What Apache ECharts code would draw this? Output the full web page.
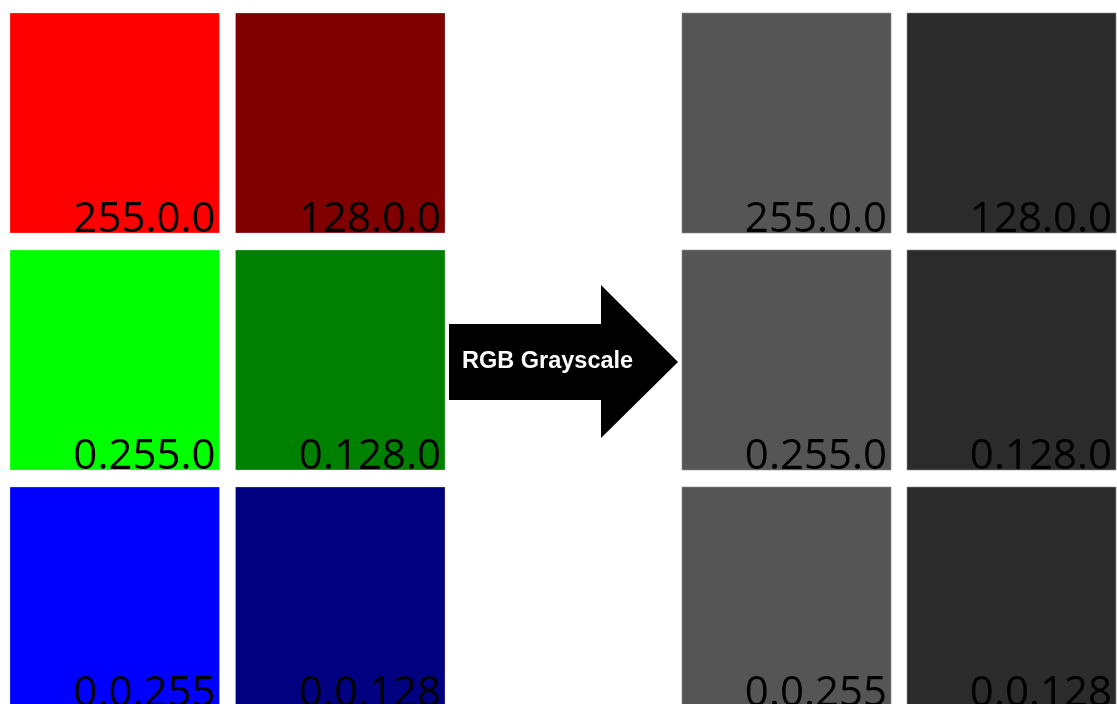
<!DOCTYPE html>
<html><head><meta charset="utf-8">
<script src="https://cdn.jsdelivr.net/npm/echarts@6/dist/echarts.min.js"></script>
<style>html,body{margin:0;padding:0;background:#fff}#c{width:1117px;height:704px}</style>
</head><body><div id="c"></div>
<script>
const rowCats = ['R', 'G', 'B'];
const colCats = ['255', '128'];
const cellLabels = [
  ['255.0.0', '128.0.0'],
  ['0.255.0', '0.128.0'],
  ['0.0.255', '0.0.128']
];
const rgbColors = [
  ['#ff0000', '#800000'],
  ['#00ff00', '#008000'],
  ['#0000ff', '#000080']
];
const grayColors = [
  ['#555555', '#2b2b2b'],
  ['#555555', '#2b2b2b'],
  ['#555555', '#2b2b2b']
];
const arrowText = 'RGB Grayscale';

function buildData(colors) {
  const d = [];
  rowCats.forEach((r, ri) => colCats.forEach((c, ci) => {
    d.push({ value: [ci, ri, cellLabels[ri][ci]], color: colors[ri][ci] });
  }));
  return d;
}

function renderCell(colors, edge) {
  return function (params, api) {
    const ci = api.value(0), ri = api.value(1);
    const p = api.coord([ci, ri]);
    const s = api.size([1, 1]);
    const w = s[0] - 16, h = s[1] - 17;
    const x = p[0] - w / 2, y = p[1] - h / 2;
    return {
      type: 'group',
      children: [
        { type: 'rect', shape: { x: x, y: y, width: w, height: h },
          style: { fill: colors[ri][ci], stroke: edge, lineWidth: 1 } },
        { type: 'text', x: x + w - 4, y: y + h + 8,
          style: { text: cellLabels[ri][ci], fill: '#000', fontSize: 42,
            fontFamily: 'Open Sans', align: 'right', verticalAlign: 'bottom' } }
      ]
    };
  };
}

const chart = echarts.init(document.getElementById('c'), null, { renderer: 'canvas' });
const hiddenCat = (data, inverse) => ({ type: 'category', data: data, inverse: inverse,
  show: false, boundaryGap: true });
chart.setOption({
  animation: false,
  grid: [
    { left: 2, top: 4.5, width: 451, height: 711, outerBoundsMode: 'none', containLabel: false },
    { left: 674, top: 4.5, width: 450, height: 711, outerBoundsMode: 'none', containLabel: false }
  ],
  xAxis: [ Object.assign(hiddenCat(colCats, false), { gridIndex: 0 }),
           Object.assign(hiddenCat(colCats, false), { gridIndex: 1 }) ],
  yAxis: [ Object.assign(hiddenCat(rowCats, true), { gridIndex: 0 }),
           Object.assign(hiddenCat(rowCats, true), { gridIndex: 1 }) ],
  series: [
    { type: 'custom', xAxisIndex: 0, yAxisIndex: 0, data: buildData(rgbColors),
      renderItem: renderCell(rgbColors, 'rgba(255,255,255,0.25)') },
    { type: 'custom', xAxisIndex: 1, yAxisIndex: 1, data: buildData(grayColors),
      renderItem: renderCell(grayColors, 'rgba(140,140,140,0.6)') }
  ],
  graphic: [
    { type: 'polygon', shape: { points: [[449,324],[601,324],[601,285],[678,362],[601,438],[601,400],[449,400]] },
      style: { fill: '#000' } },
    { type: 'text', x: 462, y: 362, style: { text: arrowText, fill: '#fff', fontSize: 23.5,
      fontWeight: 'bold', fontFamily: 'Liberation Sans', align: 'left', verticalAlign: 'middle' } }
  ]
});
</script></body></html>
